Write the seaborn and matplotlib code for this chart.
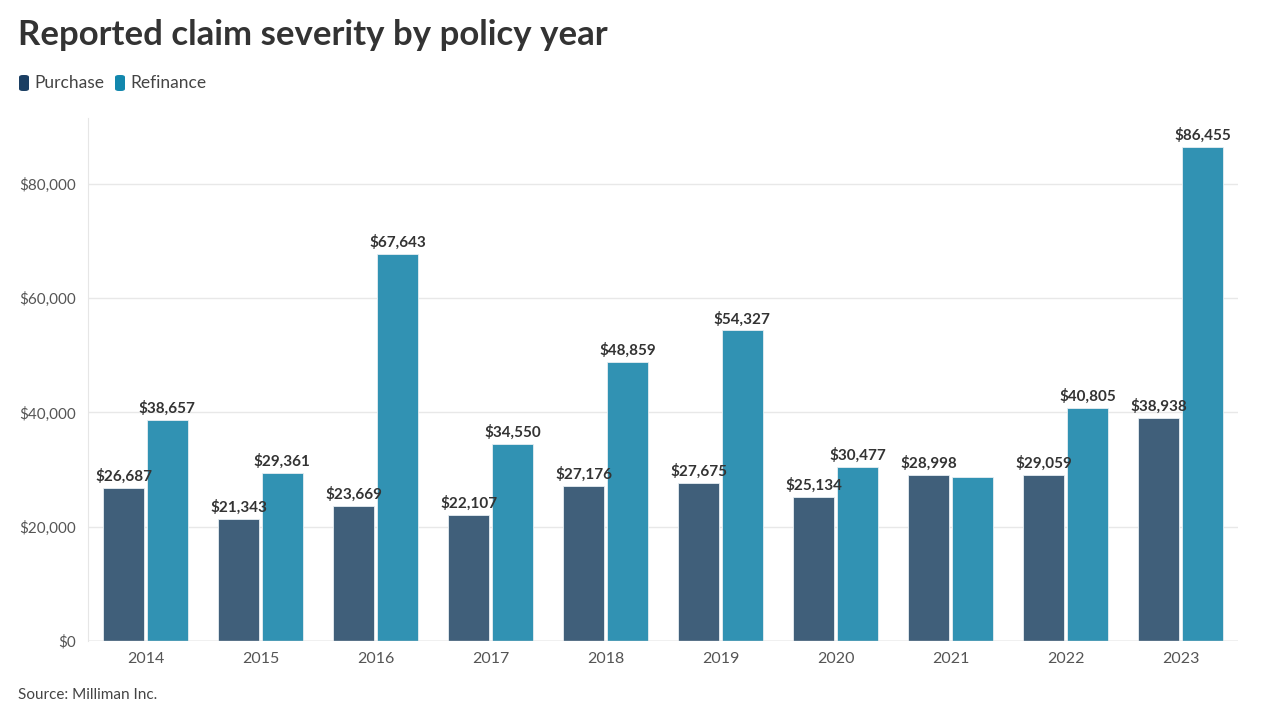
import pandas as pd
import matplotlib.pyplot as plt
import seaborn as sns
from matplotlib.patches import FancyBboxPatch
from matplotlib.ticker import FuncFormatter

# Data
years = ['2014', '2015', '2016', '2017', '2018', '2019', '2020', '2021', '2022', '2023']
purchase = [26687, 21343, 23669, 22107, 27176, 27675, 25134, 28998, 29059, 38938]
refinance = [38657, 29361, 67643, 34550, 48859, 54327, 30477, 28700, 40805, 86455]
refinance_labeled = [True, True, True, True, True, True, True, False, True, True]

PURCHASE_COLOR = '#405f7a'
REFI_COLOR = '#3192b3'


def main():
    df = pd.DataFrame({
        'year': years * 2,
        'value': purchase + refinance,
        'type': ['Purchase'] * len(years) + ['Refinance'] * len(years),
    })

    sns.set_style('white')
    plt.rcParams['font.family'] = ['Lato', 'DejaVu Sans']

    fig = plt.figure(figsize=(12.8, 7.2), dpi=100)
    ax = fig.add_axes([88 / 1280, 1 - 641 / 720, 1150 / 1280, 523 / 720])

    sns.barplot(data=df, x='year', y='value', hue='type', ax=ax,
                palette=[PURCHASE_COLOR, REFI_COLOR], width=0.76, gap=0.06,
                saturation=1, legend=False, edgecolor='#e6eef2', linewidth=0.6)

    ax.set_xlim(-0.5, len(years) - 0.5)
    ax.set_ylim(0, 91500)
    ax.set_yticks([0, 20000, 40000, 60000, 80000])
    ax.yaxis.set_major_formatter(FuncFormatter(lambda v, p: f'${v:,.0f}'))
    ax.grid(axis='y', color='#e8e8e8', linewidth=1)
    ax.set_axisbelow(True)
    for s in ['top', 'right', 'bottom']:
        ax.spines[s].set_visible(False)
    ax.spines['left'].set_color('#e6e6e6')
    ax.axhline(0, color='#cccccc', linewidth=1)
    ax.tick_params(axis='both', length=0, labelcolor='#555555')
    ax.tick_params(axis='x', labelsize=11.5, pad=8)
    ax.tick_params(axis='y', labelsize=11, pad=9)
    ax.set_xlabel('')
    ax.set_ylabel('')

    # value labels
    labels_p = [f'${v:,}' for v in purchase]
    labels_r = [f'${v:,}' if show else '' for v, show in zip(refinance, refinance_labeled)]
    ax.bar_label(ax.containers[0], labels=labels_p, padding=3, fontsize=11,
                 fontweight='bold', color='#333333')
    ax.bar_label(ax.containers[1], labels=labels_r, padding=3, fontsize=11,
                 fontweight='bold', color='#333333')

    # title, legend, source
    fig.text(18 / 1280, 1 - 35 / 720, 'Reported claim severity by policy year',
             fontsize=25, fontweight='bold', color='#333333', va='center')

    leg_items = [('Purchase', '#1b3f63', 19), ('Refinance', '#1287ad', 115)]
    for name, col, x0 in leg_items:
        fig.patches.append(FancyBboxPatch(
            (x0 / 1280, 1 - 91 / 720), 10 / 1280, 16 / 720,
            boxstyle='round,pad=0,rounding_size=0.003', transform=fig.transFigure,
            facecolor=col, edgecolor='none'))
        fig.text((x0 + 15) / 1280, 1 - 83 / 720, name, fontsize=12.5,
                 color='#444444', va='center')

    fig.text(18 / 1280, 1 - 695 / 720, 'Source: Milliman Inc.', fontsize=11,
             color='#444444', va='center')

    fig.savefig('out.png', dpi=100)
    plt.close(fig)


if __name__ == '__main__':
    main()
